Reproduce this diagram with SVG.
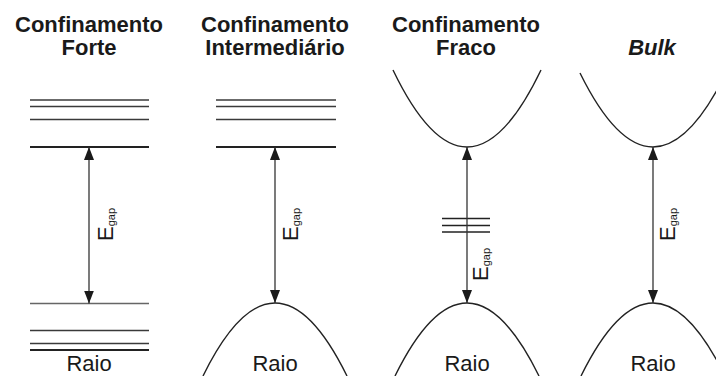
<svg xmlns="http://www.w3.org/2000/svg" width="716" height="376" viewBox="0 0 716 376">
<style>
.title{font-family:"Liberation Sans",Arial,sans-serif;font-weight:bold;font-size:22px;fill:#1a1a1a;text-anchor:middle}
.raio{font-family:"Liberation Sans",Arial,sans-serif;font-size:22px;fill:#1a1a1a;text-anchor:middle}
.eg{font-family:"Liberation Sans",Arial,sans-serif;font-size:22px;fill:#1a1a1a}
.lvl{stroke:#3a3a3a;stroke-width:1.5;fill:none}
.lvlb{stroke:#222;stroke-width:2.2;fill:none}
.band{stroke:#222;stroke-width:1.4;fill:none}
.arr{stroke:#333;stroke-width:1.3;fill:none;marker-start:url(#ah);marker-end:url(#ah)}
</style>
<defs>
<marker id="ah" viewBox="0 0 13 10" refX="13" refY="5" markerWidth="13" markerHeight="10" markerUnits="userSpaceOnUse" orient="auto-start-reverse">
<path d="M0,0 L13,5 L0,10 Z" fill="#1a1a1a"/>
</marker>
</defs>
<rect width="716" height="376" fill="#fff"/>

<g id="forte">
<text class="title" x="89" y="32">Confinamento</text>
<text class="title" x="89" y="55">Forte</text>
<line class="lvl" x1="30" y1="100" x2="149" y2="100"/>
<line class="lvl" x1="30" y1="106.5" x2="149" y2="106.5"/>
<line class="lvl" x1="30" y1="119.5" x2="149" y2="119.5"/>
<line class="lvlb" x1="30" y1="147" x2="149" y2="147"/>
<line class="lvl" x1="30" y1="303.5" x2="149" y2="303.5" style="stroke:#666"/>
<line class="lvl" x1="30" y1="330.5" x2="149" y2="330.5"/>
<line class="lvl" x1="30" y1="343.5" x2="149" y2="343.5"/>
<line class="lvlb" x1="30" y1="350" x2="149" y2="350"/>
<text class="eg" transform="translate(113,241) rotate(-90)">E<tspan font-size="11" dy="2">gap</tspan></text>
<text class="raio" x="89" y="371">Raio</text>
</g>

<g id="intermediario">
<text class="title" x="275" y="32">Confinamento</text>
<text class="title" x="275" y="55">Intermediário</text>
<line class="lvl" x1="216" y1="100" x2="336" y2="100"/>
<line class="lvl" x1="216" y1="106.5" x2="336" y2="106.5"/>
<line class="lvl" x1="216" y1="119.5" x2="336" y2="119.5"/>
<line class="lvlb" x1="216" y1="147" x2="336" y2="147"/>
<path class="band" d="M203,376 Q275,230 347,376"/>
<text class="eg" transform="translate(298,241) rotate(-90)">E<tspan font-size="11" dy="2">gap</tspan></text>
<text class="raio" x="275" y="371">Raio</text>
</g>

<g id="fraco">
<text class="title" x="466" y="32">Confinamento</text>
<text class="title" x="466" y="55">Fraco</text>
<path class="band" d="M393,70 Q467,224 541,70"/>
<line class="lvl" x1="442" y1="218.5" x2="490" y2="218.5" style="stroke:#222"/>
<line class="lvl" x1="442" y1="225.5" x2="490" y2="225.5" style="stroke:#222"/>
<line class="lvl" x1="442" y1="232" x2="490" y2="232" style="stroke:#222"/>
<path class="band" d="M395,376 Q467,230 539,376"/>
<text class="eg" transform="translate(488,281) rotate(-90)">E<tspan font-size="11" dy="2">gap</tspan></text>
<text class="raio" x="467" y="371">Raio</text>
</g>

<g id="bulk">
<text class="title" x="652" y="55" font-style="italic">Bulk</text>
<path class="band" d="M580,73 Q653,221 726,73"/>
<path class="band" d="M581,376 Q653,230 725,376"/>
<text class="eg" transform="translate(675,241) rotate(-90)">E<tspan font-size="11" dy="2">gap</tspan></text>
<text class="raio" x="653" y="371">Raio</text>
</g>

<g id="connectors">
<line class="arr" x1="89" y1="147" x2="89" y2="303.5"/>
<line class="arr" x1="275" y1="147" x2="275" y2="303"/>
<line class="arr" x1="467" y1="147" x2="467" y2="303"/>
<line class="arr" x1="653" y1="147" x2="653" y2="303"/>
</g>
</svg>
